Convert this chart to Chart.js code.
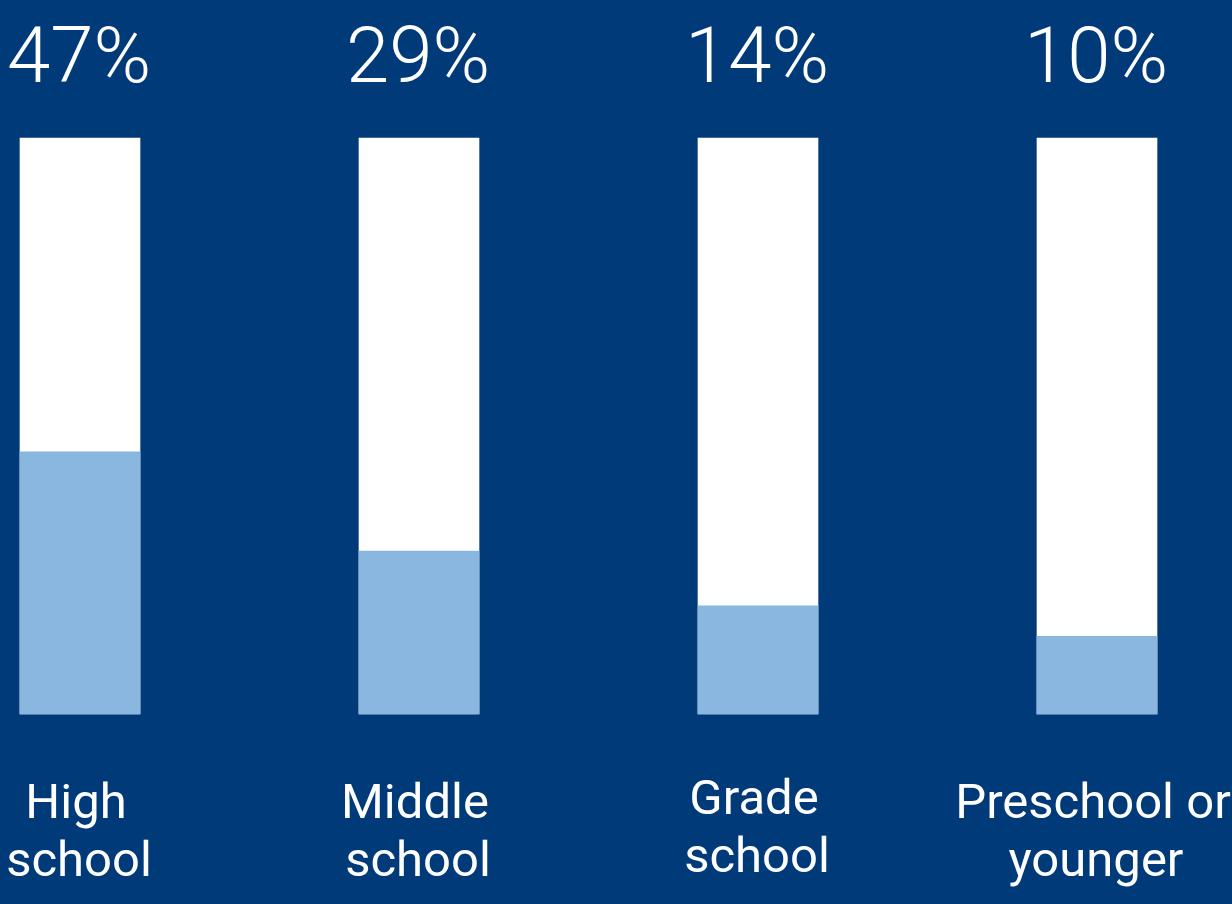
<!DOCTYPE html>
<html>
<head>
<meta charset="utf-8">
<script src="https://cdn.jsdelivr.net/npm/chart.js@4.4.1/dist/chart.umd.min.js"></script>
<style>
  html, body { margin: 0; padding: 0; background: #003a78; }
  #wrap { width: 1232px; height: 904px; }
</style>
</head>
<body>
<div id="wrap"><canvas id="c" width="1232" height="904"></canvas></div>
<script>
// Data
const categories = [["High", "school"], ["Middle", "school"], ["Grade", "school"], ["Preschool or", "younger"]];
const percentLabels = ["47%", "29%", "14%", "10%"];
const fillValues = [45.5, 28.3, 18.8, 13.5];   // filled (light blue) portion as drawn
const fullValues = [100, 100, 100, 100];        // white background bar

const BG = '#003a78';
const LIGHT = '#8ab7e0';

const labelPlugin = {
  id: 'labels',
  afterDatasetsDraw(chart) {
    const ctx = chart.ctx;
    const meta = chart.getDatasetMeta(0);
    ctx.save();
    ctx.fillStyle = '#ffffff';
    ctx.textAlign = 'center';
    ctx.textBaseline = 'alphabetic';
    meta.data.forEach((bar, i) => {
      ctx.font = '300 78px Roboto';
      ctx.fillText(percentLabels[i], bar.x - 1, 82);
      ctx.font = '400 49px Roboto';
      const lines = categories[i];
      const base = i === 2 ? 814 : 818;
      lines.forEach((ln, j) => {
        ctx.fillText(ln, bar.x - 4 + j * 3, base + j * 58);
      });
    });
    ctx.restore();
  }
};

const bgPlugin = {
  id: 'bg',
  beforeDraw(chart) {
    const ctx = chart.ctx;
    ctx.save();
    ctx.fillStyle = BG;
    ctx.fillRect(0, 0, chart.width, chart.height);
    ctx.restore();
  }
};

new Chart(document.getElementById('c'), {
  type: 'bar',
  data: {
    labels: categories.map(c => c.join(' ')),
    datasets: [
      { data: fillValues, backgroundColor: LIGHT, grouped: false, barThickness: 120, clip: false, order: 0 },
      { data: fullValues, backgroundColor: '#ffffff', grouped: false, barThickness: 120, clip: false, order: 1 }
    ]
  },
  options: {
    responsive: false,
    devicePixelRatio: 1,
    animation: false,
    layout: { padding: { left: 80, right: 135, top: 138, bottom: 190 } },
    plugins: { legend: { display: false }, tooltip: { enabled: false } },
    scales: {
      x: { type: 'category', offset: false, display: false, grid: { display: false } },
      y: { min: 0, max: 100, display: false, grid: { display: false } }
    }
  },
  plugins: [bgPlugin, labelPlugin]
});
</script>
</body>
</html>
